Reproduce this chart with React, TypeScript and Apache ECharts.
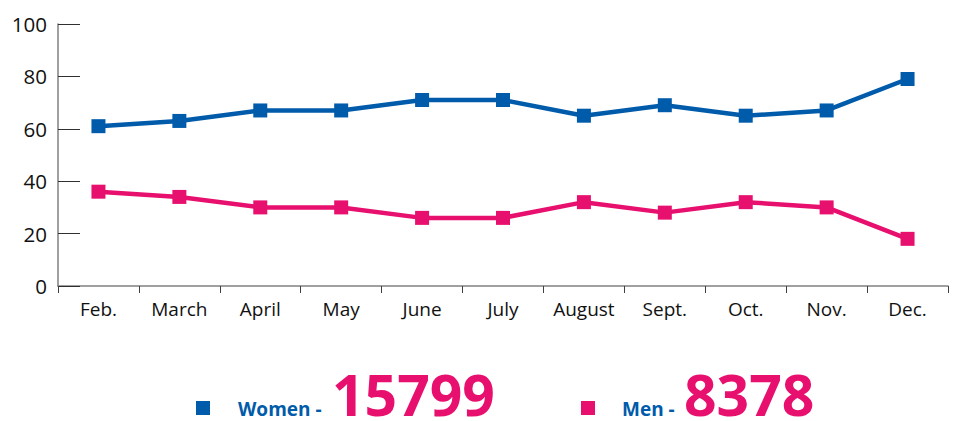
import React, { useEffect, useRef } from "react";
import * as echarts from "echarts";

const months = ["Feb.", "March", "April", "May", "June", "July", "August", "Sept.", "Oct.", "Nov.", "Dec."];
const women = [61, 63, 67, 67, 71, 71, 65, 69, 65, 67, 79];
const men = [36, 34, 30, 30, 26, 26, 32, 28, 32, 30, 18];
const womenTotal = "15799";
const menTotal = "8378";
const yTicks = { min: 0, max: 100, interval: 20 };

const BLUE = "#005BAA";
const PINK = "#E8106E";
const FONT = "'Open Sans', 'Noto Sans', sans-serif";

export default function App() {
  const ref = useRef<HTMLDivElement>(null);
  useEffect(() => {
    const chart = echarts.init(ref.current!, null, { renderer: "svg" });
    const lineSeries = (name: string, data: number[], color: string) => ({
      name,
      type: "line",
      data,
      symbol: "rect",
      symbolSize: 14,
      lineStyle: { color, width: 4.5 },
      itemStyle: { color },
      z: 3,
    });
    chart.setOption({
      animation: false,
      grid: { left: 58, right: 12, top: 24, bottom: 135 },
      xAxis: {
        type: "category",
        data: months,
        boundaryGap: true,
        axisLine: { show: true, lineStyle: { color: "#808080", width: 1.5 } },
        axisTick: { show: true, inside: false, length: 7, interval: 0, lineStyle: { color: "#404040" } },
        axisLabel: { color: "#111", fontSize: 19, fontFamily: FONT, margin: 13, interval: 0, hideOverlap: false },
      },
      yAxis: {
        type: "value",
        min: yTicks.min,
        max: yTicks.max,
        interval: yTicks.interval,
        axisLine: { show: true, lineStyle: { color: "#808080", width: 1.5 } },
        axisTick: { show: true, inside: true, length: 22, lineStyle: { color: "#303030" } },
        splitLine: { show: false },
        axisLabel: { color: "#111", fontSize: 20.5, fontFamily: FONT, margin: 11 },
      },
      series: [lineSeries("Women", women, BLUE), lineSeries("Men", men, PINK)],
      graphic: [
        { type: "rect", shape: { x: 196, y: 401, width: 14, height: 14 }, style: { fill: BLUE } },
        {
          type: "text", x: 238, y: 409,
          style: { text: "Women -", fill: BLUE, font: `bold 19px ${FONT}`, verticalAlign: "middle" },
        },
        {
          type: "text", x: 332, y: 394,
          style: { text: womenTotal, fill: PINK, font: `bold 57px ${FONT}`, lineHeight: 48, verticalAlign: "middle" },
        },
        { type: "rect", shape: { x: 581, y: 401, width: 14, height: 14 }, style: { fill: PINK } },
        {
          type: "text", x: 622, y: 409,
          style: { text: "Men -", fill: BLUE, font: `bold 19px ${FONT}`, verticalAlign: "middle" },
        },
        {
          type: "text", x: 684, y: 394,
          style: { text: menTotal, fill: PINK, font: `bold 57px ${FONT}`, lineHeight: 48, verticalAlign: "middle" },
        },
      ],
    });
    return () => chart.dispose();
  }, []);
  return <div ref={ref} style={{ width: 960, height: 421, position: "absolute", left: 0, top: 0 }} />;
}
